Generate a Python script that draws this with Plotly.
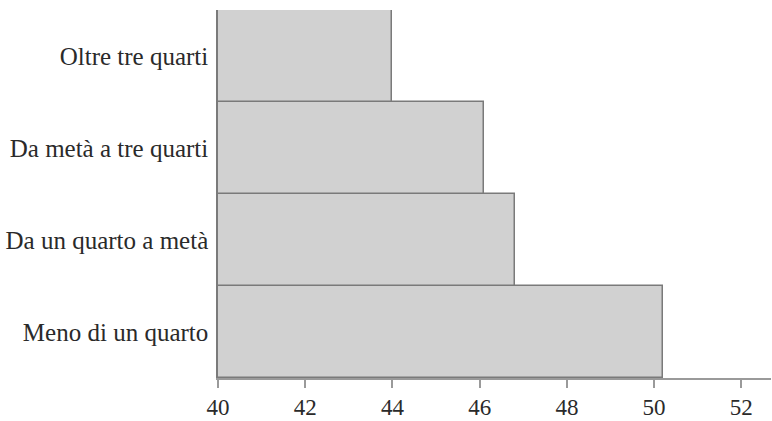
import plotly.graph_objects as go

categories = ["Meno di un quarto", "Da un quarto a metà", "Da metà a tre quarti", "Oltre tre quarti"]
values = [50.2, 46.8, 46.1, 44.0]
tick_vals = [40, 42, 44, 46, 48, 50, 52]

fig = go.Figure(go.Bar(
    y=categories, x=values, orientation="h",
    marker=dict(color="#d1d1d1", line=dict(color="#7a7a7a", width=1.5)),
    width=1.0,
))
fig.update_layout(
    width=772, height=421,
    margin=dict(l=218, r=1, t=10, b=40),
    paper_bgcolor="white", plot_bgcolor="white",
    bargap=0, showlegend=False,
    font=dict(family="Liberation Serif", size=23, color="#2a2a2a"),
)
fig.update_xaxes(range=[40, 52.68], tickvals=tick_vals, showgrid=False, zeroline=False,
                 showline=True, linecolor="#9a9a9a", linewidth=1.5,
                 ticks="outside", ticklen=8, tickcolor="#9a9a9a", tickwidth=1.5,
                 ticklabelstandoff=0)
fig.update_yaxes(showgrid=False, zeroline=False, showline=True, linecolor="#7a7a7a", linewidth=1.5,
                 ticks="", ticklabelstandoff=3, range=[-0.5, 3.5], tickfont=dict(size=25))
fig.write_html("out.html", config={"displayModeBar": False},
               post_script="document.body.style.margin='0';document.body.style.overflow='hidden';")
